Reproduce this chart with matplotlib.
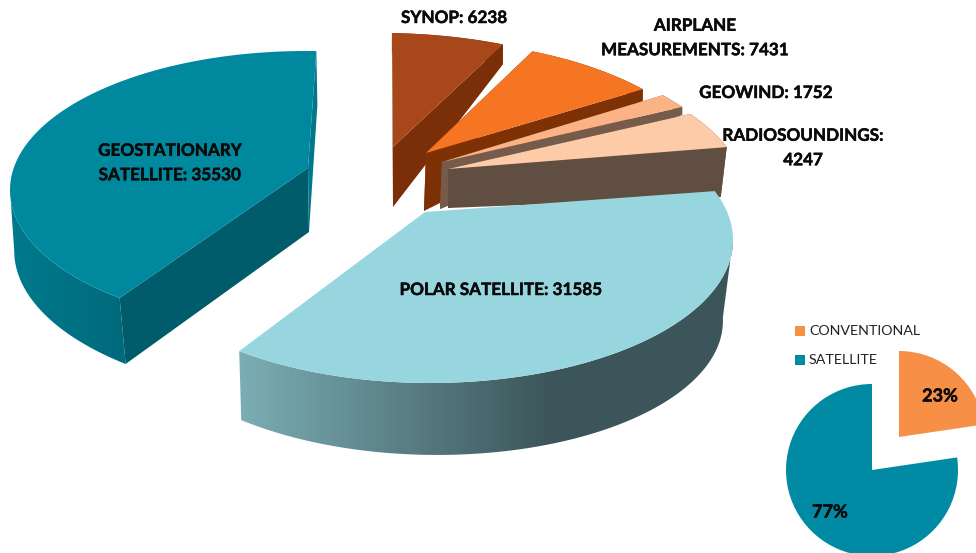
import numpy as np
import matplotlib
matplotlib.use("Agg")
import matplotlib.pyplot as plt
import matplotlib.patheffects as pe
from matplotlib.patches import Polygon, Wedge, Rectangle
from matplotlib.colors import to_rgb

# ---- data ----
names = ["POLAR SATELLITE", "GEOSTATIONARY\nSATELLITE", "SYNOP", "AIRPLANE\nMEASUREMENTS", "GEOWIND", "RADIOSOUNDINGS"]
values = [31585, 35530, 6238, 7431, 1752, 4247]
groups = ["CONVENTIONAL", "SATELLITE"]
satellite_idx = [0, 1]

# ---- style / layout (pixel space) ----
W, H = 976, 553
# perspective warp of the pie angle (true angle -> drawn ellipse parameter)
warp_true = [0, 131, 278.4, 304.3, 335.1, 342.4, 360]
warp_draw = [-20, 129, 272, 293, 319, 325, 340]
apex = [(425, 212), (308, 168), (393, 147), (426, 153), (442, 162), (448, 169)]
centre = [(430, 240), (306, 190), (381, 177), (414, 183), (434, 189), (442, 196)]
axes_ab = [(303, 143), (296, 139), (312, 144), (303, 143), (303, 143), (303, 143)]
apex_depth = [(0, 60), (1, 64), (0, 60), (-2, 58), (-2, 47), (0, 39)]
rim_depth = [((-12, 80), (2, 69)), ((6, 66), (1, 54)), ((0, 19), (0, 20)),
             ((0, 12), (0, 12)), ((0, 8), (0, 8)), ((-2, 50), (-6, 50))]
top_col = ["#98d6df", "#00889f", "#a8481a", "#f67522", "#fbb284", "#fdcba8"]
face_col = ["#3c555a", "#005c6b", "#7b2f08", "#7f3106", "#765a4a", "#604e42"]
outer_grad = [[(241, "#7aaeb4"), (550, "#3c555a"), (735, "#3c555a")],
              [(10, "#007a8d"), (124, "#006a7c")],
              None, None, None, None]
outer_limits = [(-1, 400), (-400, 181), None, None, None, None]
skip_radial = [0]
draw_order = [1, 2, 3, 4, 5, 0]
label_pos = [(501, 290), (170, 163), (454, 18), (695, 38), (766, 93), (803, 148)]
inset_cols = ["#f79046", "#008aa3"]

fig = plt.figure(figsize=(W / 100, H / 100), dpi=100)
ax = fig.add_axes([0, 0, 1, 1])
ax.set_xlim(0, W)
ax.set_ylim(H, 0)
ax.axis("off")

total = sum(values)
cum = np.concatenate([[0], np.cumsum(values)]) / total * 360


def warp(a):
    return np.interp(a, warp_true, warp_draw)


def fill_grad(poly_xy, stops, z):
    patch = Polygon(poly_xy, closed=True, fc="none", ec="none", zorder=z)
    ax.add_patch(patch)
    xs = np.array([s[0] for s in stops], float)
    cols = np.array([to_rgb(s[1]) for s in stops])
    grid = np.arange(0, W)
    img = np.stack([np.interp(grid, xs, cols[:, k]) for k in range(3)], axis=-1)[None, :, :]
    im = ax.imshow(img, extent=(0, W, H, 0), aspect="auto", zorder=z)
    im.set_clip_path(patch)


for i in draw_order:
    deg = warp(np.linspace(cum[i], cum[i + 1], 160))
    t = np.radians(deg)
    cx, cy = centre[i]
    a, b = axes_ab[i]
    rim = np.column_stack([cx + a * np.cos(t), cy + b * np.sin(t)])
    f = np.linspace(0, 1, len(t))[:, None]
    d0, d1 = np.array(rim_depth[i][0], float), np.array(rim_depth[i][1], float)
    low = rim + d0 * (1 - f) + d1 * f
    ap = np.array(apex[i], float)
    ap_low = ap + np.array(apex_depth[i], float)
    z = 2 + draw_order.index(i) * 2
    mask = np.ones(len(t), bool)
    if outer_limits[i] is not None:
        mask = (deg >= outer_limits[i][0]) & (deg <= outer_limits[i][1])
    outer = np.vstack([rim[mask], low[mask][::-1]])
    if outer_grad[i] is not None:
        fill_grad(outer, outer_grad[i], z)
    else:
        ax.add_patch(Polygon(outer, closed=True, fc=face_col[i], ec="none", zorder=z))
    if i not in skip_radial:
        for end in (0, -1):
            ax.add_patch(Polygon([ap, rim[end], low[end], ap_low], closed=True,
                                 fc=face_col[i] if not (i == 1 and end == -1) else "#00788c",
                                 ec="none", zorder=z))
    ax.add_patch(Polygon(np.vstack([ap, rim]), closed=True, fc=top_col[i], ec="none", zorder=z + 1))

font = dict(family="Lato", fontweight="bold", color="#0a0a0a", ha="center", va="center", zorder=40)
thick = [pe.withStroke(linewidth=0.35, foreground="#0a0a0a")]
for i, (x, y) in enumerate(label_pos):
    txt = f"{names[i]}: {values[i]}"
    if names[i] == "RADIOSOUNDINGS":
        txt = f"{names[i]}:\n{values[i]}"
    ax.text(x, y, txt, fontsize=12.3, linespacing=1.65, path_effects=thick, **font)

# inset pie (y axis is inverted, so wedge angles are reflected)
sat = sum(values[k] for k in satellite_idx)
conv = total - sat
sat_deg = 360 * sat / total
ax.add_patch(Wedge((872, 470), 86, -90 - sat_deg, -90, fc=inset_cols[1], ec="none", zorder=50))
ax.add_patch(Wedge((899, 437), 86, -90, -90 + (360 - sat_deg), fc=inset_cols[0], ec="none", zorder=50))
pct_font = {**font, "zorder": 55}
ax.text(940, 396, f"{round(100 * conv / total)}%", fontsize=13, path_effects=thick, **pct_font)
ax.text(830, 512, f"{round(100 * sat / total)}%", fontsize=13, path_effects=thick, **pct_font)

# legend
for g, col, y in zip(groups, inset_cols, (331, 360)):
    ax.add_patch(Rectangle((795, y - 5), 10, 10, fc=col, ec="none", zorder=60))
    ax.text(809, y, g, family="Lato", fontsize=10.3, color="#222222", ha="left", va="center", zorder=60)

fig.savefig("out.png", dpi=100)
